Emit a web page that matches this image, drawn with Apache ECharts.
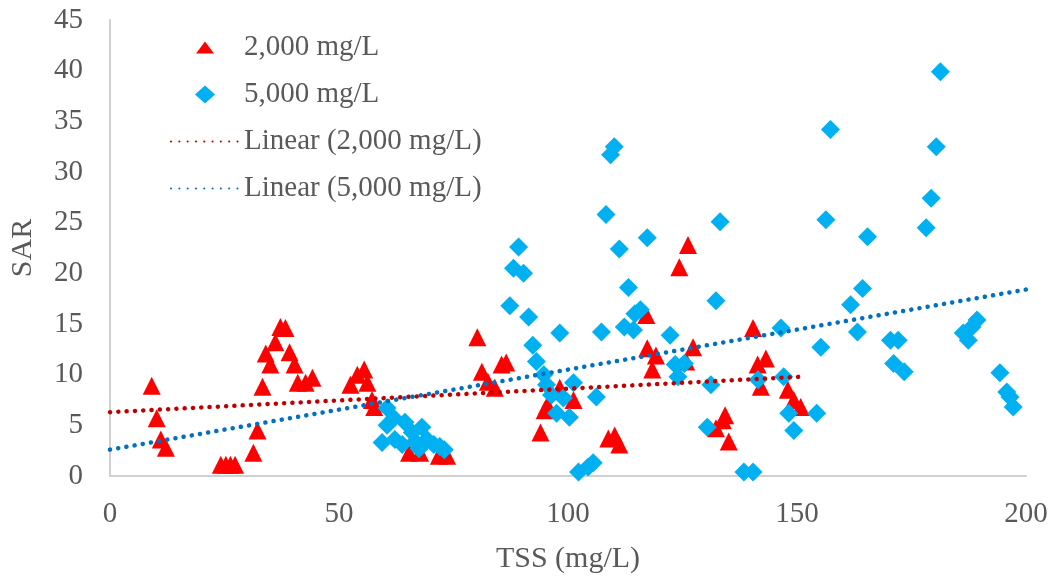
<!DOCTYPE html>
<html>
<head>
<meta charset="utf-8">
<script src="https://cdn.jsdelivr.net/npm/echarts@6/dist/echarts.min.js"></script>
<style>
  html, body { margin: 0; padding: 0; background: #fff; }
  #chart { width: 1059px; height: 582px; }
</style>
</head>
<body>
<div id="chart"></div>
<script>
// TSS (mg/L) vs SAR
var tds2000 = [
  [9.1, 8.9], [10.2, 5.7], [11.1, 3.6], [12.2, 2.8],
  [24.2, 1.1], [25.3, 1.1], [26.3, 1.1], [27.3, 1.1],
  [31.3, 2.3], [32.2, 4.5], [33.3, 8.8], [34.0, 12.1], [35.0, 11.0], [36.1, 13.2],
  [37.2, 14.7], [38.3, 14.6], [39.2, 12.2], [40.3, 11.0], [41.0, 9.2], [42.7, 9.2], [44.2, 9.7],
  [52.5, 9.0], [54.0, 10.0], [55.5, 10.5], [56.2, 9.2], [57.2, 7.5], [57.7, 6.8],
  [65.3, 2.3], [67.7, 2.3], [71.8, 2.0], [73.6, 2.0],
  [80.2, 13.7], [81.2, 10.3], [82.5, 9.3], [84.0, 8.7], [85.5, 11.0], [86.5, 11.2],
  [94.0, 4.3], [94.9, 6.5], [95.5, 7.0], [98.2, 8.7], [101.2, 7.5],
  [108.8, 3.7], [110.2, 4.0], [111.2, 3.1],
  [117.1, 15.9], [117.3, 12.6], [119.2, 11.9], [118.4, 10.5], [124.3, 20.6], [126.2, 22.8],
  [127.3, 12.7], [125.8, 11.3],
  [132.3, 4.7], [133.8, 5.5], [134.3, 6.0], [135.1, 3.4],
  [140.4, 14.6], [141.4, 11.0], [143.2, 11.6], [142.1, 8.8], [148.0, 8.5], [149.3, 7.5], [150.8, 6.8]
];

var tds5000 = [
  [59.4, 3.3], [60.5, 6.7], [62.0, 5.7], [60.5, 5.0], [64.4, 5.3], [62.2, 3.6], [66.0, 4.3],
  [68.1, 4.8], [66.6, 3.4], [69.2, 3.6], [70.7, 3.1], [72.0, 2.9], [73.0, 2.6], [63.8, 3.1], [67.5, 2.7],
  [87.3, 16.8], [88.1, 20.5], [89.2, 22.6], [90.3, 20.0], [91.4, 15.7], [92.3, 12.9], [93.1, 11.3],
  [94.7, 10.0], [95.3, 9.0], [96.4, 8.0], [97.5, 6.2], [99.0, 7.7], [98.2, 14.1], [100.3, 5.8], [101.2, 9.2],
  [102.3, 0.4], [104.4, 0.9], [105.5, 1.3], [106.2, 7.8],
  [107.3, 14.2], [108.3, 25.8], [109.3, 31.7], [110.1, 32.5], [111.2, 22.4], [112.3, 14.7],
  [113.2, 18.6], [114.3, 14.4], [114.6, 16.0], [115.8, 16.4], [117.3, 23.5],
  [122.3, 13.9], [123.4, 11.0], [124.0, 9.8], [125.4, 11.1],
  [130.4, 4.8], [131.2, 9.0], [132.3, 17.3], [133.2, 25.1],
  [138.4, 0.4], [140.4, 0.4], [141.5, 9.5], [146.5, 14.6], [147.1, 9.8], [148.2, 6.2], [149.3, 4.5],
  [154.3, 6.2], [155.2, 12.7], [156.3, 25.3], [157.3, 34.2],
  [161.7, 16.9], [163.2, 14.2], [164.3, 18.5], [165.4, 23.6],
  [170.4, 13.4], [171.1, 11.1], [172.1, 13.4], [173.4, 10.3],
  [178.2, 24.5], [179.3, 27.4], [180.4, 32.5], [181.3, 39.9],
  [186.3, 14.1], [187.4, 13.4], [188.2, 14.7], [189.3, 15.4],
  [194.3, 10.2], [195.8, 8.3], [196.5, 7.8], [197.2, 6.8]
];

// trendline ends as drawn in the picture
var trend2000 = [[0, 6.3], [151, 9.8]];
var trend5000 = [[0, 2.6], [200, 18.4]];

var xTicks = [0, 50, 100, 150, 200];
var yTicks = [0, 5, 10, 15, 20, 25, 30, 35, 40, 45];

var font = "'Liberation Serif', 'Times New Roman', serif";
var txt = '#595959';
var dots = { width: 4.5, type: [0.1, 8.2], cap: 'round' };

// legend icons: tiny zero-area subpaths pad the box so keepAspect leaves the shape its real size
var triIcon = 'path://M10,4L19,16L1,16Z M10,0L10.01,0Z M10,20L10.01,20Z';
var diaIcon = 'path://M10,1L20,10L10,19L0,10Z M10,0L10.01,0Z M10,20L10.01,20Z';

var chart = echarts.init(document.getElementById('chart'));
chart.setOption({
  animation: false,
  textStyle: { fontFamily: font },
  grid: { left: 107, right: 33, top: 20, bottom: 106 },
  legend: {
    orient: 'vertical',
    left: 165,
    top: 28,
    itemWidth: 68,
    itemHeight: 20,
    itemGap: 18,
    symbolKeepAspect: true,
    textStyle: { fontFamily: font, fontSize: 29, color: txt },
    data: [
      { name: '2,000 mg/L', icon: triIcon },
      { name: '5,000 mg/L', icon: diaIcon },
      { name: 'Linear (2,000 mg/L)', itemStyle: { opacity: 0 } },
      { name: 'Linear (5,000 mg/L)', itemStyle: { opacity: 0 } }
    ]
  },
  xAxis: {
    type: 'value',
    min: xTicks[0],
    max: xTicks[xTicks.length - 1],
    interval: 50,
    name: 'TSS (mg/L)',
    nameLocation: 'middle',
    nameGap: 68,
    nameTextStyle: { fontFamily: font, fontSize: 30, color: txt },
    axisLine: { lineStyle: { color: '#d0d0d0', width: 2 } },
    axisTick: { show: false },
    splitLine: { show: false },
    axisLabel: { fontFamily: font, fontSize: 29, color: txt, margin: 24 }
  },
  yAxis: {
    type: 'value',
    min: yTicks[0],
    max: yTicks[yTicks.length - 1],
    interval: 5,
    name: 'SAR',
    nameLocation: 'middle',
    nameGap: 72,
    nameTextStyle: { fontFamily: font, fontSize: 30, color: txt },
    axisLine: { show: true, lineStyle: { color: '#d0d0d0', width: 2 } },
    axisTick: { show: false },
    splitLine: { show: false },
    axisLabel: { fontFamily: font, fontSize: 29, color: txt, margin: 27 }
  },
  series: [
    {
      name: '2,000 mg/L',
      type: 'scatter',
      symbol: 'triangle',
      symbolSize: 18,
      itemStyle: { color: '#ff0000', opacity: 1 },
      data: tds2000,
      z: 2
    },
    {
      name: '5,000 mg/L',
      type: 'scatter',
      symbol: 'diamond',
      symbolSize: 19,
      itemStyle: { color: '#00b0f0', opacity: 1 },
      data: tds5000,
      z: 3
    },
    {
      name: 'Linear (2,000 mg/L)',
      type: 'line',
      symbol: 'none',
      color: '#c00000',
      lineStyle: Object.assign({ color: '#c00000' }, dots),
      data: trend2000,
      z: 4
    },
    {
      name: 'Linear (5,000 mg/L)',
      type: 'line',
      symbol: 'none',
      color: '#0070c0',
      lineStyle: Object.assign({ color: '#0070c0' }, dots),
      data: trend5000,
      z: 4
    }
  ]
});
</script>
</body>
</html>
